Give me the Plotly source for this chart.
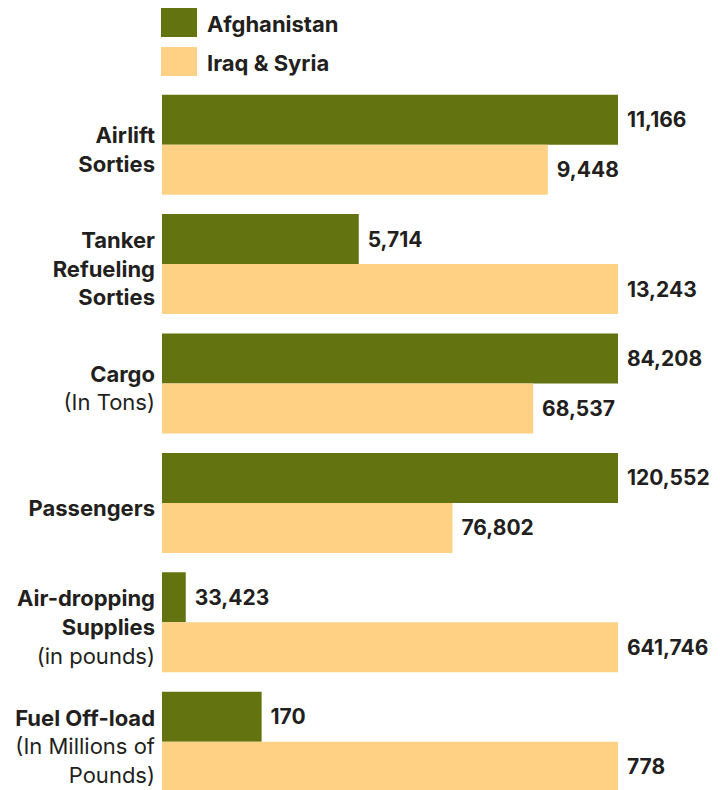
import plotly.graph_objects as go

categories = [
    "<b>Airlift</b><br><b>Sorties</b>",
    "<b>Tanker</b><br><b>Refueling</b><br><b>Sorties</b>",
    "<b>Cargo</b><br>(In Tons)",
    "<b>Passengers</b>",
    "<b>Air-dropping</b><br><b>Supplies</b><br>(in pounds)",
    "<b>Fuel Off-load</b><br>(In Millions of<br>Pounds)",
]
afghanistan = [11166, 5714, 84208, 120552, 33423, 170]
iraq_syria = [9448, 13243, 68537, 76802, 641746, 778]
series_names = ["Afghanistan", "Iraq & Syria"]
colors = ["#63730F", "#FED185"]

FONT = "Inter, Roboto, sans-serif"
INK = "#231F20"

row_max = [max(a, b) for a, b in zip(afghanistan, iraq_syria)]
keys = [f"c{i}" for i in range(len(categories))]

fig = go.Figure()
for name, vals, col in zip(series_names, [afghanistan, iraq_syria], colors):
    fig.add_trace(go.Bar(
        y=keys,
        x=[v / m for v, m in zip(vals, row_max)],
        orientation="h",
        name=name,
        marker=dict(color=col, line=dict(width=0)),
        text=[f"\u00a0<b>{v:,}</b>" for v in vals],
        textposition="outside",
        textfont=dict(size=21, color=INK, family=FONT),
        cliponaxis=False,
        showlegend=False,
    ))

W, H = 720, 790
ml, mr, mt, mb = 162, 102, 85, 0
ph = H - mt - mb
pw = W - ml - mr

def py(y):
    return (H - mb - y) / ph

def px(x):
    return (x - ml) / pw

shapes = []
annotations = []
for i, (name, col) in enumerate(zip(series_names, colors)):
    y0, y1 = 8 + i * 39, 37 + i * 39
    shapes.append(dict(type="rect", xref="paper", yref="paper",
                       x0=px(161), x1=px(197), y0=py(y1), y1=py(y0),
                       fillcolor=col, line=dict(width=0)))
    annotations.append(dict(xref="paper", yref="paper", x=px(205), y=py((y0 + y1) / 2 + 1),
                            text=f"<b>{name}</b>", showarrow=False, xanchor="left",
                            yanchor="middle",
                            font=dict(size=22, color=INK, family=FONT)))

group_px = 119.4
units = ph / group_px
fig.update_layout(
    width=W, height=H,
    margin=dict(l=ml, r=mr, t=mt, b=mb, pad=0),
    barmode="group",
    bargap=0.1625,
    bargroupgap=0,
    plot_bgcolor="white",
    paper_bgcolor="white",
    shapes=shapes,
    annotations=annotations,
    font=dict(family=FONT, color=INK),
    xaxis=dict(range=[0, 1], visible=False, showgrid=False, zeroline=False),
    yaxis=dict(
        type="category",
        range=[-0.5 + units, -0.5],
        tickmode="array",
        tickvals=keys,
        ticktext=categories,
        ticks="",
        showgrid=False,
        zeroline=False,
        showline=False,
        ticklabelstandoff=6,
        ticklabelshift=-5,
        tickfont=dict(size=22, color=INK, family=FONT),
    ),
)

fig.write_html("out.html")
